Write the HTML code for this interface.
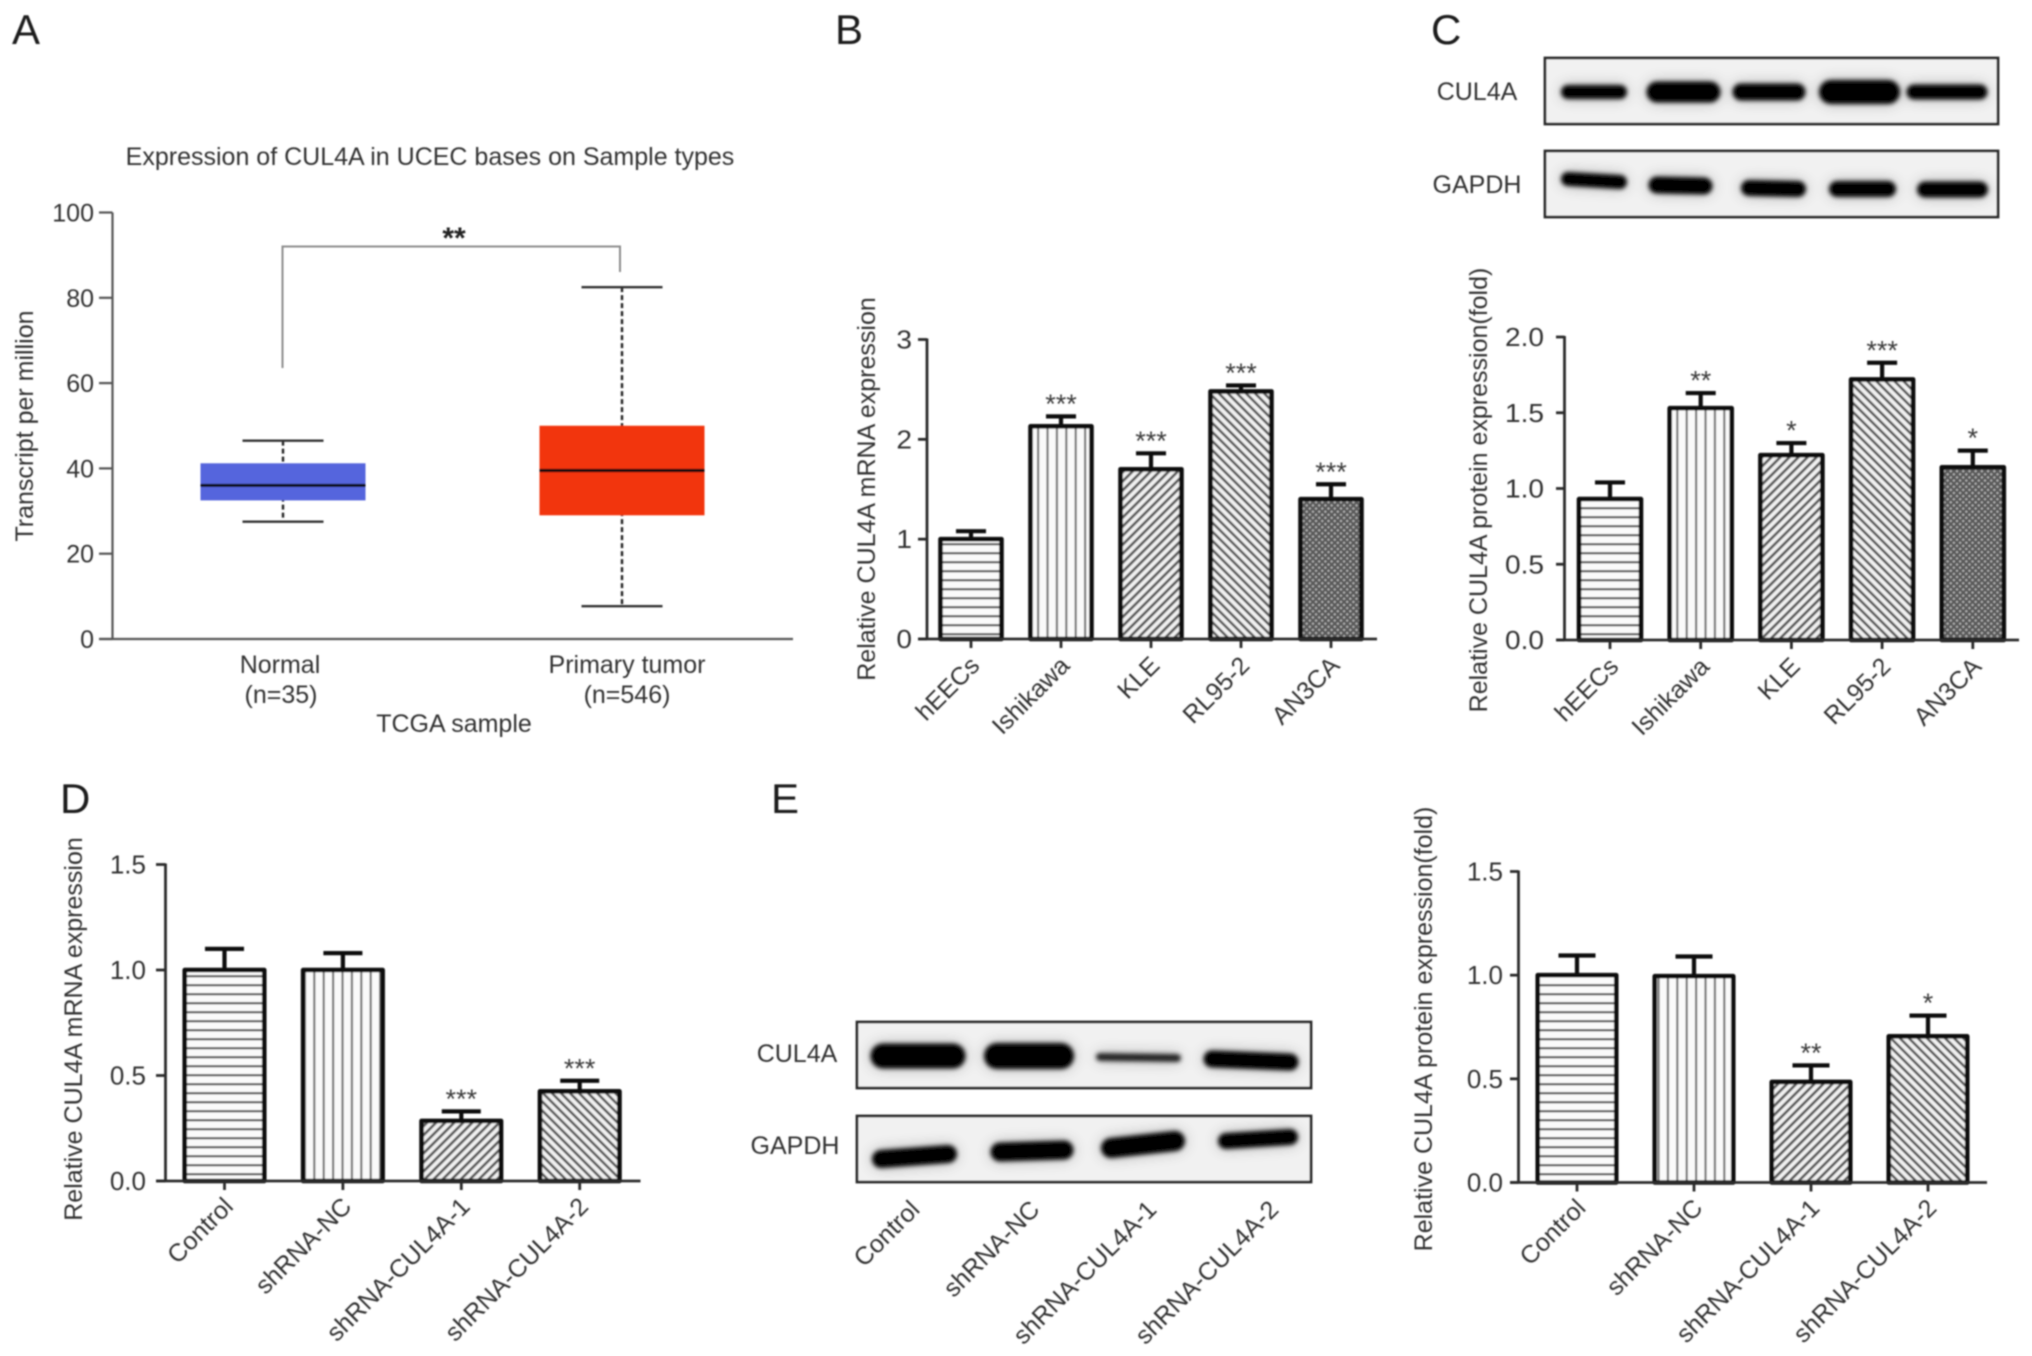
<!DOCTYPE html>
<html lang="en">
<head>
<meta charset="utf-8">
<title>CUL4A expression figure</title>
<style>
html,body{margin:0;padding:0;background:#fff;}
svg{display:block;font-family:"Liberation Sans",Arial,sans-serif;}
</style>
</head>
<body>
<svg id="figure" xmlns="http://www.w3.org/2000/svg" width="2032" height="1356" viewBox="0 0 2032 1356">
  <defs>
    <filter id="soft" filterUnits="userSpaceOnUse" x="0" y="0" width="2032" height="1356"><feGaussianBlur stdDeviation="0.75"/></filter>
    <filter id="bandBlur" filterUnits="userSpaceOnUse" x="0" y="0" width="2032" height="1356">
      <feGaussianBlur in="SourceGraphic" stdDeviation="7" result="wide"/>
      <feComponentTransfer in="wide" result="halo"><feFuncA type="linear" slope="0.3"/></feComponentTransfer>
      <feGaussianBlur in="SourceGraphic" stdDeviation="2.2" result="core"/>
      <feMerge><feMergeNode in="halo"/><feMergeNode in="core"/></feMerge>
    </filter>
    <pattern id="hatch-h" patternUnits="userSpaceOnUse" width="10" height="9"><rect width="10" height="9" fill="#fafafa"/><rect y="3" width="10" height="2.4" fill="#666"/></pattern>
    <pattern id="hatch-v" patternUnits="userSpaceOnUse" width="9.4" height="10"><rect width="9.4" height="10" fill="#fafafa"/><rect x="3" width="2.2" height="10" fill="#777"/></pattern>
    <pattern id="hatch-up" patternUnits="userSpaceOnUse" width="6.4" height="10" patternTransform="rotate(45)"><rect width="6.4" height="10" fill="#f0f0f0"/><rect width="2.7" height="10" fill="#5c5c5c"/></pattern>
    <pattern id="hatch-down" patternUnits="userSpaceOnUse" width="6.4" height="10" patternTransform="rotate(-45)"><rect width="6.4" height="10" fill="#f0f0f0"/><rect width="2.6" height="10" fill="#5c5c5c"/></pattern>
    <pattern id="hatch-cross" patternUnits="userSpaceOnUse" width="4.4" height="4.4" patternTransform="rotate(45)"><rect width="4.4" height="4.4" fill="#5a5a5a"/><rect width="2" height="2" fill="#b4b4b4"/></pattern>
  </defs>

  <rect width="2032" height="1356" fill="#ffffff"/>

  <g id="root" filter="url(#soft)">
    <g font-size="42" fill="#1a1a1a">
      <text x="12" y="44">A</text>
      <text x="835" y="44">B</text>
      <text x="1431" y="44">C</text>
      <text x="60" y="813">D</text>
      <text x="771" y="813">E</text>
    </g>

    <g id="panel-a" fill="#333">
      <text x="430" y="165" font-size="25" text-anchor="middle">Expression of CUL4A in UCEC bases on Sample types</text>
      <text transform="translate(33,426) rotate(-90)" font-size="25" text-anchor="middle">Transcript per million</text>
      <text x="454" y="732" font-size="25" text-anchor="middle">TCGA sample</text>
      <path d="M282.5 368V246.5H620V272" fill="none" stroke="#8c8c8c" stroke-width="2"/>
      <text x="454" y="248" font-size="30" font-weight="bold" text-anchor="middle" fill="#222">**</text>
    </g>

    <g id="panel-b"></g>

    <g id="blot-c">
      <text x="1477" y="100" font-size="25" text-anchor="middle" fill="#333">CUL4A</text>
      <text x="1477" y="193" font-size="25" text-anchor="middle" fill="#333">GAPDH</text>
      <rect x="1545" y="58" width="453" height="66" fill="#f1f1f1" stroke="#2a2a2a" stroke-width="2.8"/>
      <rect x="1545" y="151" width="453" height="66" fill="#f1f1f1" stroke="#2a2a2a" stroke-width="2.8"/>
      <g stroke="#050505" stroke-linecap="round" filter="url(#bandBlur)">
        <line x1="1568" y1="92" x2="1620" y2="92" stroke-width="14"/>
        <line x1="1657" y1="92" x2="1710" y2="92" stroke-width="21"/>
        <line x1="1741" y1="92" x2="1797" y2="92" stroke-width="17"/>
        <line x1="1831" y1="92" x2="1888" y2="92" stroke-width="24"/>
        <line x1="1914" y1="92" x2="1980" y2="92" stroke-width="15"/>
      </g>
      <g stroke="#050505" stroke-linecap="round" filter="url(#bandBlur)">
        <line x1="1568" y1="179" x2="1620" y2="182" stroke-width="14"/>
        <line x1="1657" y1="185" x2="1704" y2="186" stroke-width="17"/>
        <line x1="1749" y1="188" x2="1798" y2="189" stroke-width="16"/>
        <line x1="1837" y1="189" x2="1888" y2="189" stroke-width="16"/>
        <line x1="1925" y1="189.5" x2="1980" y2="189.5" stroke-width="16"/>
      </g>
    </g>

    <g id="panel-c"></g>
    <g id="panel-d"></g>

    <g id="blot-e">
      <text x="797" y="1062" font-size="25" text-anchor="middle" fill="#333">CUL4A</text>
      <text x="795" y="1154" font-size="25" text-anchor="middle" fill="#333">GAPDH</text>
      <rect x="857" y="1022" width="454" height="66" fill="#f1f1f1" stroke="#2a2a2a" stroke-width="2.8"/>
      <rect x="857" y="1116" width="454" height="66" fill="#f1f1f1" stroke="#2a2a2a" stroke-width="2.8"/>
      <g stroke="#050505" stroke-linecap="round" filter="url(#bandBlur)">
        <line x1="883" y1="1056" x2="953" y2="1056" stroke-width="25"/>
        <line x1="997" y1="1056" x2="1061" y2="1056" stroke-width="26"/>
        <line x1="1100" y1="1057" x2="1177" y2="1058" stroke="#222" stroke-width="8"/>
        <line x1="1212" y1="1059" x2="1290" y2="1062" stroke-width="17"/>
      </g>
      <g stroke="#050505" stroke-linecap="round" filter="url(#bandBlur)">
        <line x1="881" y1="1159" x2="948" y2="1154" stroke-width="18"/>
        <line x1="1000" y1="1152" x2="1064" y2="1150" stroke-width="19"/>
        <line x1="1111" y1="1148" x2="1175" y2="1141" stroke-width="20"/>
        <line x1="1226" y1="1141" x2="1290" y2="1137" stroke-width="16"/>
      </g>
      <g font-size="25" fill="#333" text-anchor="end">
        <text transform="translate(921,1211) rotate(-45)">Control</text>
        <text transform="translate(1041,1211) rotate(-45)">shRNA-NC</text>
        <text transform="translate(1158,1211) rotate(-45)">shRNA-CUL4A-1</text>
        <text transform="translate(1280,1211) rotate(-45)">shRNA-CUL4A-2</text>
      </g>
    </g>

    <g id="panel-e"></g>
  </g>
</svg>

<script>
// Panel A box plot data
const boxCategories = ['Normal', 'Primary tumor'];
const boxSampleSizes = ['(n=35)', '(n=546)'];
const boxWhiskerLow = [27.5, 7.7];
const boxQ1 = [32.5, 29];
const boxMedian = [36, 39.5];
const boxQ3 = [41.2, 50];
const boxWhiskerHigh = [46.5, 82.5];
const boxColors = ['#5565dd', '#f2360c'];
const boxTicks = ['0', '20', '40', '60', '80', '100'];

// Panel B data
const panelBCategories = ['hEECs', 'Ishikawa', 'KLE', 'RL95-2', 'AN3CA'];
const panelBValues = [1.0, 2.13, 1.7, 2.48, 1.4];
const panelBErrorTops = [1.08, 2.23, 1.86, 2.54, 1.55];
const panelBStars = ['', '***', '***', '***', '***'];
const panelBTicks = ['0', '1', '2', '3'];

// Panel C data
const panelCCategories = ['hEECs', 'Ishikawa', 'KLE', 'RL95-2', 'AN3CA'];
const panelCValues = [0.93, 1.53, 1.22, 1.72, 1.14];
const panelCErrorTops = [1.04, 1.63, 1.3, 1.83, 1.25];
const panelCStars = ['', '**', '*', '***', '*'];
const panelCTicks = ['0.0', '0.5', '1.0', '1.5', '2.0'];

// Panel D data
const panelDCategories = ['Control', 'shRNA-NC', 'shRNA-CUL4A-1', 'shRNA-CUL4A-2'];
const panelDValues = [1.0, 1.0, 0.285, 0.425];
const panelDErrorTops = [1.1, 1.08, 0.33, 0.475];
const panelDStars = ['', '', '***', '***'];
const panelDTicks = ['0.0', '0.5', '1.0', '1.5'];

// Panel E data
const panelECategories = ['Control', 'shRNA-NC', 'shRNA-CUL4A-1', 'shRNA-CUL4A-2'];
const panelEValues = [1.0, 0.995, 0.485, 0.705];
const panelEErrorTops = [1.095, 1.09, 0.565, 0.805];
const panelEStars = ['', '', '**', '*'];
const panelETicks = ['0.0', '0.5', '1.0', '1.5'];

const SVG_NS = 'http://www.w3.org/2000/svg';
const AXIS_COLOR = '#2b2b2b';
const TEXT_COLOR = '#333333';

function add(parent, tag, attrs, text) {
  const node = document.createElementNS(SVG_NS, tag);
  for (const key in attrs) node.setAttribute(key, attrs[key]);
  if (text !== undefined) node.textContent = text;
  parent.appendChild(node);
  return node;
}
function slug(s) {
  return String(s).toLowerCase().replace(/[^a-z0-9]+/g, '-');
}
function linearY(zeroPx, topPx, maxValue) {
  return function (v) { return zeroPx - (v / maxValue) * (zeroPx - topPx); };
}
function bandX(firstCenter, step) {
  return function (i) { return firstCenter + i * step; };
}

function drawYAxis(group, y, ticks, o) {
  const line = add(group, 'line', {x1: o.axisX, x2: o.axisX, y1: y(parseFloat(ticks[ticks.length - 1])) - 1, y2: o.zeroY + 1, stroke: AXIS_COLOR, 'stroke-width': o.axisWidth});
  
  
  ticks.forEach(function (label) {
    const v = parseFloat(label);
    const tick = add(group, 'line', {x1: o.tickStart, x2: o.axisX, y1: y(v), y2: y(v), stroke: AXIS_COLOR, 'stroke-width': o.axisWidth});
    
    
    const text = add(group, 'text', {transform: 'translate(' + o.tickLabelX + ',' + (y(v) + 9) + ') scale(' + o.tickStretch + ',1)', 'font-size': 26, 'text-anchor': 'end', fill: TEXT_COLOR}, label);
    
    
  });
  const title = add(group, 'text', {transform: 'translate(' + o.titleX + ',' + o.titleY + ') rotate(-90)', 'font-size': 25, 'text-anchor': 'middle', fill: TEXT_COLOR}, o.title);
  
  
}

function drawBarPanel(groupId, categories, values, errorTops, stars, ticks, o) {
  const group = document.getElementById(groupId);
  const maxValue = parseFloat(ticks[ticks.length - 1]);
  const y = linearY(o.zeroY, o.topY, maxValue);
  const x = bandX(o.firstCenter, o.step);

  categories.forEach(function (cat, i) {
    const cx = x(i);
    const name = slug(cat);

    const errLine = add(group, 'line', {x1: cx, x2: cx, y1: y(values[i]), y2: y(errorTops[i]), stroke: '#111', 'stroke-width': 4.2});
    
    

    const errCap = add(group, 'line', {x1: cx - o.capWidth / 2, x2: cx + o.capWidth / 2, y1: y(errorTops[i]), y2: y(errorTops[i]), stroke: '#111', 'stroke-width': 4.2});
    
    

    const bar = add(group, 'rect', {x: cx - o.barWidth / 2, y: y(values[i]), width: o.barWidth, height: y(0) - y(values[i]), fill: 'url(#' + o.patterns[i] + ')', stroke: '#0d0d0d', 'stroke-width': 4.6, 'stroke-linejoin': 'round'});
    
    

    if (stars[i]) {
      const star = add(group, 'text', {x: cx, y: y(errorTops[i]) - 3.5, 'font-size': 27, 'text-anchor': 'middle', fill: '#3c3c3c'}, stars[i]);
      
      
    }

    const tick = add(group, 'line', {x1: cx, x2: cx, y1: o.zeroY, y2: o.zeroY + 9, stroke: AXIS_COLOR, 'stroke-width': o.axisWidth});
    
    

    const label = add(group, 'text', {transform: 'translate(' + (cx + o.labelDx) + ',' + (o.zeroY + o.labelDy) + ') rotate(-45)', 'font-size': 25, 'text-anchor': 'end', fill: TEXT_COLOR}, cat);
    
    
  });

  const xAxis = add(group, 'line', {x1: o.axisStart, x2: o.axisEnd, y1: o.zeroY, y2: o.zeroY, stroke: AXIS_COLOR, 'stroke-width': o.axisWidth});
  
  

  drawYAxis(group, y, ticks, o);
}

function drawBoxPanel() {
  const group = document.getElementById('panel-a');
  const zeroY = 639, topY = 212.5;
  const y = linearY(zeroY, topY, parseFloat(boxTicks[boxTicks.length - 1]));
  const x = bandX(283, 339);
  const boxWidth = 165, capWidth = 81;

  boxCategories.forEach(function (cat, i) {
    const cx = x(i);
    const name = slug(cat);

    const whisker = add(group, 'line', {x1: cx, x2: cx, y1: y(boxWhiskerHigh[i]), y2: y(boxWhiskerLow[i]), stroke: '#222', 'stroke-width': 2.4, 'stroke-dasharray': '5 3'});
    
    

    const capHigh = add(group, 'line', {x1: cx - capWidth / 2, x2: cx + capWidth / 2, y1: y(boxWhiskerHigh[i]), y2: y(boxWhiskerHigh[i]), stroke: '#333', 'stroke-width': 2.4});
    
    

    const capLow = add(group, 'line', {x1: cx - capWidth / 2, x2: cx + capWidth / 2, y1: y(boxWhiskerLow[i]), y2: y(boxWhiskerLow[i]), stroke: '#333', 'stroke-width': 2.4});
    
    

    const box = add(group, 'rect', {x: cx - boxWidth / 2, y: y(boxQ3[i]), width: boxWidth, height: y(boxQ1[i]) - y(boxQ3[i]), fill: boxColors[i]});
    
    

    const median = add(group, 'line', {x1: cx - boxWidth / 2, x2: cx + boxWidth / 2, y1: y(boxMedian[i]), y2: y(boxMedian[i]), stroke: '#0a0a0a', 'stroke-width': 3.2});
    
    

    const label = add(group, 'text', {x: cx + (i === 0 ? -3 : 5), y: 673, 'font-size': 25, 'text-anchor': 'middle'}, cat);
    
    

    const sample = add(group, 'text', {x: cx + (i === 0 ? -2 : 5), y: 703, 'font-size': 25, 'text-anchor': 'middle'}, boxSampleSizes[i]);
    
    
  });

  const xAxis = add(group, 'line', {x1: 99, x2: 793, y1: zeroY, y2: zeroY, stroke: '#555', 'stroke-width': 2.2});
  
  

  const yAxis = add(group, 'line', {x1: 112.5, x2: 112.5, y1: topY, y2: zeroY, stroke: '#555', 'stroke-width': 2.2});
  
  

  boxTicks.forEach(function (tickLabel) {
    const v = parseFloat(tickLabel);
    const tick = add(group, 'line', {x1: 99, x2: 112.5, y1: y(v), y2: y(v), stroke: '#555', 'stroke-width': 2.2});
    
    
    const text = add(group, 'text', {x: 94, y: y(v) + 9, 'font-size': 25, 'text-anchor': 'end'}, tickLabel);
    
    
  });
}

drawBoxPanel();

drawBarPanel('panel-b', panelBCategories, panelBValues, panelBErrorTops, panelBStars, panelBTicks, {
  zeroY: 639, topY: 339.5, firstCenter: 971, step: 90, barWidth: 61, capWidth: 30,
  axisX: 927, axisStart: 918, axisEnd: 1377, tickStart: 918, axisWidth: 2.8,
  tickLabelX: 912, tickStretch: 1.08, titleX: 875, titleY: 489,
  title: 'Relative CUL4A mRNA expression', labelDx: 10, labelDy: 28,
  patterns: ['hatch-h', 'hatch-v', 'hatch-up', 'hatch-down', 'hatch-cross']
});

drawBarPanel('panel-c', panelCCategories, panelCValues, panelCErrorTops, panelCStars, panelCTicks, {
  zeroY: 640, topY: 337, firstCenter: 1610, step: 90.7, barWidth: 62, capWidth: 30,
  axisX: 1564.5, axisStart: 1557, axisEnd: 2019, tickStart: 1556, axisWidth: 2.8,
  tickLabelX: 1544, tickStretch: 1.08, titleX: 1487, titleY: 490,
  title: 'Relative CUL4A protein expression(fold)', labelDx: 10, labelDy: 28,
  patterns: ['hatch-h', 'hatch-v', 'hatch-up', 'hatch-down', 'hatch-cross']
});

drawBarPanel('panel-d', panelDCategories, panelDValues, panelDErrorTops, panelDStars, panelDTicks, {
  zeroY: 1181, topY: 864.5, firstCenter: 224.5, step: 118.4, barWidth: 79.5, capWidth: 39,
  axisX: 165.5, axisStart: 156, axisEnd: 640.5, tickStart: 156, axisWidth: 2.8,
  tickLabelX: 146, tickStretch: 1, titleX: 82, titleY: 1029,
  title: 'Relative CUL4A mRNA expression', labelDx: 10, labelDy: 27,
  patterns: ['hatch-h', 'hatch-v', 'hatch-up', 'hatch-down']
});

drawBarPanel('panel-e', panelECategories, panelEValues, panelEErrorTops, panelEStars, panelETicks, {
  zeroY: 1182.5, topY: 871.5, firstCenter: 1577, step: 117, barWidth: 78.5, capWidth: 37,
  axisX: 1518.5, axisStart: 1510, axisEnd: 1987, tickStart: 1510, axisWidth: 2.8,
  tickLabelX: 1503, tickStretch: 1, titleX: 1432, titleY: 1029,
  title: 'Relative CUL4A protein expression(fold)', labelDx: 10, labelDy: 27,
  patterns: ['hatch-h', 'hatch-v', 'hatch-up', 'hatch-down']
});
</script>
</body>
</html>
